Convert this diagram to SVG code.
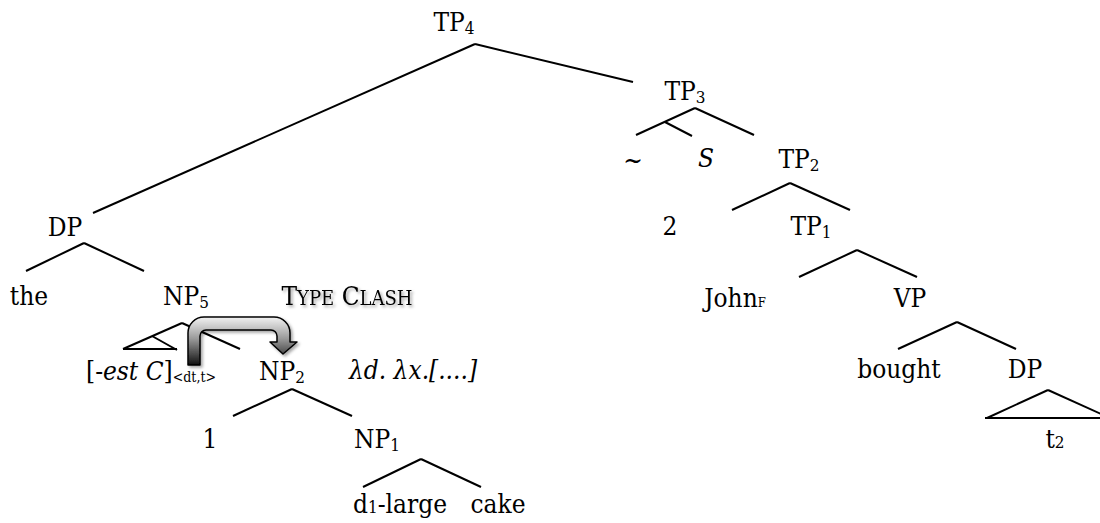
<svg xmlns="http://www.w3.org/2000/svg" width="1100" height="523" viewBox="0 0 1100 523">
<style>
.t{font-family:"DejaVu Serif Condensed","DejaVu Serif","Liberation Serif",serif;font-stretch:condensed;font-size:26px;fill:#000;text-anchor:middle}
.s{text-anchor:start}
.sub{font-size:17px}
.it{font-style:italic}
.e{stroke:#000;stroke-width:2;fill:none;stroke-linecap:butt}
</style>
<defs>
<linearGradient id="ag" x1="0" y1="317" x2="0" y2="365" gradientUnits="userSpaceOnUse">
<stop offset="0" stop-color="#f2f2f2"/>
<stop offset="0.45" stop-color="#9a9a9a"/>
<stop offset="1" stop-color="#111"/>
</linearGradient>
<filter id="sh" x="-20%" y="-20%" width="140%" height="160%">
<feDropShadow dx="2" dy="2" stdDeviation="1.5" flood-color="#000" flood-opacity="0.35"/>
</filter>
</defs>
<rect width="1100" height="523" fill="#fff"/>
<g id="connectors">
<line class="e" x1="475" y1="44" x2="93" y2="213"/>
<line class="e" x1="475" y1="44" x2="633" y2="82"/>
<line class="e" x1="695" y1="108" x2="636" y2="135"/>
<line class="e" x1="695" y1="108" x2="754" y2="135"/>
<line class="e" x1="665" y1="122" x2="692" y2="136"/>
<line class="e" x1="790" y1="183" x2="732" y2="210"/>
<line class="e" x1="790" y1="183" x2="850" y2="210"/>
<line class="e" x1="857" y1="250" x2="799" y2="277"/>
<line class="e" x1="857" y1="250" x2="917" y2="277"/>
<line class="e" x1="957" y1="322" x2="898" y2="349"/>
<line class="e" x1="957" y1="322" x2="1016" y2="349"/>
<line class="e" x1="1048" y1="390" x2="987" y2="418"/>
<line class="e" x1="1048" y1="390" x2="1110" y2="418"/>
<line class="e" x1="985" y1="418" x2="1100" y2="418"/>
<line class="e" x1="84" y1="243" x2="26" y2="271"/>
<line class="e" x1="84" y1="243" x2="144" y2="271"/>
<line class="e" x1="182" y1="323" x2="123" y2="349"/>
<line class="e" x1="182" y1="323" x2="240" y2="349"/>
<line class="e" x1="152" y1="336" x2="177" y2="350"/>
<line class="e" x1="123" y1="349" x2="177" y2="349"/>
<line class="e" x1="292" y1="389" x2="233" y2="416"/>
<line class="e" x1="292" y1="389" x2="352" y2="416"/>
<line class="e" x1="421" y1="459" x2="363" y2="487"/>
<line class="e" x1="421" y1="459" x2="481" y2="487"/>
</g>
<g id="arrow-typeclash" filter="url(#sh)">
<path d="M188,365 L188,333 A16,16 0 0 1 204,317 L274,317 A16,16 0 0 1 290,333 L290,342 L297,342 L283,354 L270,342 L277,342 L277,336 A6,6 0 0 0 271,330 L206,330 A6,6 0 0 0 200,336 L200,365 Z" fill="url(#ag)" stroke="#000" stroke-width="1.5" stroke-linejoin="round"/>
</g>
<g id="TP4"><text class="t" x="454" y="31">TP<tspan class="sub" dy="3">4</tspan></text></g>
<g id="TP3"><text class="t" x="685" y="100">TP<tspan class="sub" dy="3">3</tspan></text></g>
<g id="tilde"><text class="t" x="633" y="169">~</text></g>
<g id="S"><text class="t it" x="706" y="167">S</text></g>
<g id="TP2"><text class="t" x="799" y="168">TP<tspan class="sub" dy="3">2</tspan></text></g>
<g id="n2"><text class="t" x="670" y="235">2</text></g>
<g id="TP1"><text class="t" x="811" y="235">TP<tspan class="sub" dy="3">1</tspan></text></g>
<g id="DP-left"><text class="t" x="65" y="236">DP</text></g>
<g id="the"><text class="t" x="29" y="305">the</text></g>
<g id="NP5"><text class="t" x="186" y="305">NP<tspan class="sub" dy="3">5</tspan></text></g>
<g id="type-clash" filter="url(#sh)"><text class="t" x="347" y="305">T<tspan font-size="20px">YPE</tspan> C<tspan font-size="20px">LASH</tspan></text></g>
<g id="JohnF"><text class="t" x="735" y="307">John<tspan font-size="13px">F</tspan></text></g>
<g id="VP"><text class="t" x="910" y="307">VP</text></g>
<g id="est"><text class="t s" x="86" y="380">[-<tspan class="it">est C</tspan>]<tspan font-size="14px" dy="2">&lt;dt,t&gt;</tspan></text></g>
<g id="NP2"><text class="t" x="282" y="380">NP<tspan class="sub" dy="3">2</tspan></text></g>
<g id="lambda"><text class="t it" x="413" y="379">λd. λx.[....]</text></g>
<g id="bought"><text class="t" x="899" y="378">bought</text></g>
<g id="DP-right"><text class="t" x="1025" y="378">DP</text></g>
<g id="n1"><text class="t" x="210" y="448">1</text></g>
<g id="NP1"><text class="t" x="377" y="448">NP<tspan class="sub" dy="3">1</tspan></text></g>
<g id="t2"><text class="t" x="1055" y="448">t<tspan class="sub">2</tspan></text></g>
<g id="d1-large"><text class="t" x="400" y="513">d<tspan class="sub">1</tspan>-large</text></g>
<g id="cake"><text class="t" x="498" y="513">cake</text></g>
</svg>
